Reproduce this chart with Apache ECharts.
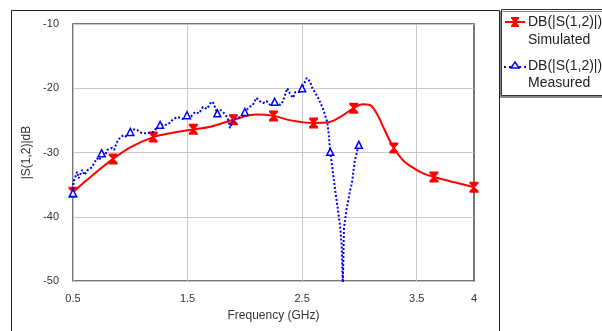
<!DOCTYPE html>
<html>
<head>
<meta charset="utf-8">
<script src="https://cdn.jsdelivr.net/npm/echarts@6/dist/echarts.min.js"></script>
<style>
  html, body { margin: 0; padding: 0; background: #fff; }
  #chart { width: 602px; height: 331px; }
</style>
</head>
<body>
<div id="chart"></div>
<script>
// tick labels
const xTicks = [0.5, 1.5, 2.5, 3.5, 4]
const yTicks = [-10, -20, -30, -40, -50]

// simulated |S12| (red)
const simFreq = [0.5, 0.6, 0.7, 0.85, 1.0, 1.2, 1.35, 1.55, 1.7, 1.9, 2.1, 2.25, 2.4, 2.6, 2.73, 2.82, 2.95, 3.03, 3.09, 3.15, 3.22, 3.3, 3.38, 3.47, 3.55, 3.65, 3.82, 4.0]
const simDb = [-36.2, -34.6, -33.1, -31.0, -29.2, -27.6, -27.0, -26.4, -26.0, -24.9, -24.1, -24.3, -25.0, -25.4, -25.3, -24.6, -23.1, -22.5, -22.6, -23.9, -26.5, -29.3, -31.2, -32.4, -33.2, -33.8, -34.6, -35.4]
const simMarkers = [0.5, 0.85, 1.2, 1.55, 1.9, 2.25, 2.6, 2.95, 3.3, 3.65, 4.0]

// measured |S12| (blue)
const measFreq = [0.5, 0.505, 0.52, 0.535, 0.55, 0.58, 0.6, 0.63, 0.665, 0.69, 0.71, 0.73, 0.75, 0.78, 0.8, 0.84, 0.86, 0.88, 0.91, 0.94, 0.97, 1.0, 1.03, 1.06, 1.1, 1.15, 1.2, 1.23, 1.26, 1.32, 1.35, 1.37, 1.41, 1.44, 1.47, 1.495, 1.53, 1.565, 1.6, 1.635, 1.67, 1.7, 1.72, 1.74, 1.76, 1.79, 1.81, 1.85, 1.87, 1.9, 1.93, 1.96, 2.0, 2.04, 2.07, 2.1, 2.13, 2.16, 2.19, 2.22, 2.26, 2.31, 2.33, 2.37, 2.39, 2.42, 2.44, 2.48, 2.5, 2.54, 2.57, 2.59, 2.64, 2.68, 2.72, 2.73, 2.745, 2.76, 2.79, 2.81, 2.83, 2.845, 2.85, 2.855, 2.865, 2.89, 2.92, 2.935, 2.96, 2.995]
const measDb = [-36.3, -34.5, -33.8, -33.0, -34.0, -32.7, -33.5, -32.7, -32.3, -31.5, -30.9, -31.2, -30.1, -30.4, -29.6, -29.3, -29.6, -28.5, -27.7, -27.3, -27.6, -26.8, -26.4, -26.5, -27.0, -27.0, -26.8, -26.2, -25.7, -25.7, -25.3, -24.9, -24.5, -24.6, -24.9, -24.2, -24.4, -23.7, -23.9, -22.9, -23.2, -22.3, -22.1, -23.0, -23.9, -23.4, -23.7, -24.6, -26.2, -24.9, -24.7, -24.5, -23.7, -22.9, -22.6, -21.5, -22.0, -22.3, -22.0, -22.6, -22.1, -22.6, -22.1, -20.0, -20.7, -21.5, -20.6, -20.6, -20.0, -18.4, -19.0, -20.0, -21.5, -23.1, -25.3, -26.8, -29.9, -31.9, -36.1, -38.6, -41.3, -44.4, -47.5, -50.5, -41.8, -38.6, -35.8, -34.7, -31.2, -28.8]
const measMarkers = [0.5, 0.75, 1.0, 1.26, 1.495, 1.76, 2.0, 2.26, 2.5, 2.745, 2.995]

const RED = '#ff0000'
const BLUE = '#0000ff'
const FONT = 'Arial, "Liberation Sans", sans-serif'
// hourglass marker used by the simulated trace
const HOURGLASS = 'path://M0,0L10,0L10,2L6,6L10,10L10,12L0,12L0,10L4,6L0,2Z'

const simData = simFreq.map((f, i) => {
  const mark = simMarkers.includes(f)
  return { value: [f, simDb[i]], symbol: mark ? HOURGLASS : 'none' }
})
const measData = measFreq.map((f, i) => {
  const mark = measMarkers.includes(f)
  return { value: [f, measDb[i]], symbol: mark ? 'triangle' : 'none' }
})

const chart = echarts.init(document.getElementById('chart'))

chart.setOption({
  animation: false,
  backgroundColor: '#fff',
  grid: {
    left: 73, right: 128, top: 24, bottom: 50,
    show: true,
    borderColor: '#4a4a4a',
    borderWidth: 1.5,
    backgroundColor: '#fff'
  },
  xAxis: {
    type: 'value',
    min: 0.5, max: 4, interval: 0.5,
    name: 'Frequency (GHz)',
    nameLocation: 'middle',
    nameGap: 29,
    nameTextStyle: { fontFamily: FONT, fontSize: 12, color: '#333' },
    axisLine: { show: false },
    axisTick: { show: false },
    axisLabel: {
      margin: 12,
      fontFamily: FONT, fontSize: 11, color: '#333',
      formatter: v => xTicks.some(t => Math.abs(t - v) < 1e-6) ? String(v) : ''
    },
    splitLine: { show: true, lineStyle: { color: ['#c8c8c8', 'transparent'], width: 1 } }
  },
  yAxis: {
    type: 'value',
    min: -50, max: -10, interval: 10,
    name: '|S(1,2)|dB',
    nameLocation: 'middle',
    nameGap: 38,
    nameTextStyle: { fontFamily: FONT, fontSize: 12, color: '#333' },
    axisLine: { show: false },
    axisTick: { show: false },
    axisLabel: {
      margin: 14,
      fontFamily: FONT, fontSize: 11, color: '#333',
      formatter: v => yTicks.includes(v) ? String(v) : ''
    },
    splitLine: { show: true, lineStyle: { color: '#c8c8c8', width: 1 } }
  },
  series: [
    {
      name: 'Simulated',
      type: 'line',
      data: simData,
      smooth: 0.35,
      showAllSymbol: true,
      symbolSize: [9, 11],
      lineStyle: { color: RED, width: 2 },
      itemStyle: { color: RED },
      z: 3
    },
    {
      name: 'Measured',
      type: 'line',
      data: measData,
      showAllSymbol: true,
      symbolSize: 7,
      lineStyle: { color: BLUE, width: 2, type: [2, 2] },
      itemStyle: { color: '#fff', borderColor: BLUE, borderWidth: 1.5 },
      z: 4
    }
  ],
  graphic: [
    // outer chart frame
    {
      type: 'rect', silent: true, z: 0,
      shape: { x: 11.5, y: 10.5, width: 488, height: 340 },
      style: { fill: 'none', stroke: '#222', lineWidth: 1 }
    },
    // legend box
    {
      type: 'rect', silent: true, z: 10,
      shape: { x: 501.5, y: 9.5, width: 120, height: 86 },
      style: { fill: '#fff', stroke: '#333', lineWidth: 1, shadowColor: '#888', shadowOffsetX: -1, shadowOffsetY: 2, shadowBlur: 0 }
    },
    { type: 'line', z: 11, shape: { x1: 505, y1: 22, x2: 525, y2: 22 }, style: { stroke: RED, lineWidth: 2 } },
    { type: 'polygon', z: 11, shape: { points: [[511, 17], [519, 17], [519, 18.5], [516, 22], [519, 25.5], [519, 27], [511, 27], [511, 25.5], [514, 22], [511, 18.5]] }, style: { fill: RED } },
    { type: 'text', z: 11, style: { x: 528, y: 22, text: 'DB(|S(1,2)|)', font: '14px ' + FONT, fill: '#222', verticalAlign: 'middle' } },
    { type: 'text', z: 11, style: { x: 528, y: 40, text: 'Simulated', font: '14px ' + FONT, fill: '#222', verticalAlign: 'middle' } },
    { type: 'line', z: 11, shape: { x1: 504, y1: 67, x2: 526, y2: 67 }, style: { stroke: BLUE, lineWidth: 2, lineDash: [2, 3] } },
    { type: 'polygon', z: 11, shape: { points: [[515, 62], [519, 68], [511, 68]] }, style: { fill: '#fff', stroke: BLUE, lineWidth: 1.5 } },
    { type: 'text', z: 11, style: { x: 528, y: 66, text: 'DB(|S(1,2)|)', font: '14px ' + FONT, fill: '#222', verticalAlign: 'middle' } },
    { type: 'text', z: 11, style: { x: 528, y: 83, text: 'Measured', font: '14px ' + FONT, fill: '#222', verticalAlign: 'middle' } }
  ]
})
</script>
</body>
</html>
